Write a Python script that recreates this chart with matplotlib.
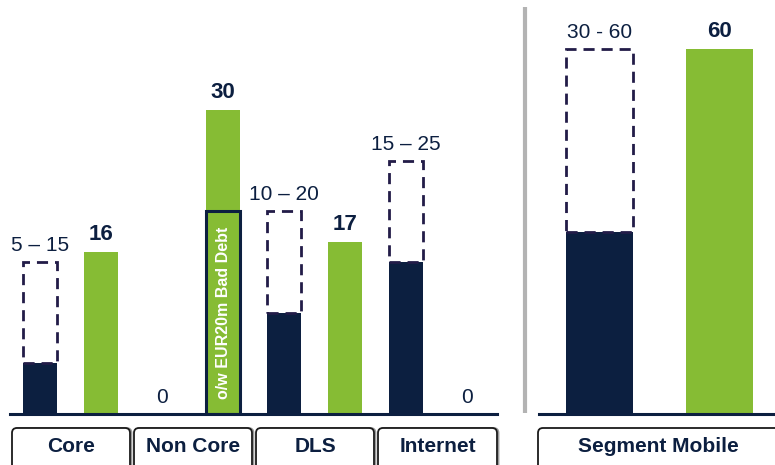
import matplotlib
matplotlib.use("Agg")
import matplotlib.pyplot as plt
from matplotlib.patches import Rectangle, FancyBboxPatch

plt.rcParams["font.family"] = ["Liberation Sans", "DejaVu Sans"]

# ---- data -------------------------------------------------------------
segments = ["Core", "Non Core", "DLS", "Internet"]
guide_low = [5, 0, 10, 15]          # lower end of guidance range
guide_high = [15, 0, 20, 25]        # upper end of guidance range
guide_labels = ["5 \u2013 15", "0", "10 \u2013 20", "15 \u2013 25"]
actual = [16, 30, 17, 0]
actual_labels = ["16", "30", "17", "0"]
bad_debt = [0, 20, 0, 0]            # o/w portion inside the actual bar

mobile = "Segment Mobile"
mobile_low, mobile_high = 30, 60
mobile_label = "30 - 60"
mobile_actual = 60
mobile_actual_label = "60"

# ---- style ------------------------------------------------------------
NAVY = "#0c1f40"
GREEN = "#86bc34"
DASH = "#221c48"
W, H = 775, 465

fig = plt.figure(figsize=(W / 100, H / 100), dpi=100)


def px_axes(x0, x1, y_base, y_top=0):
    return fig.add_axes([x0 / W, (H - y_base) / H, (x1 - x0) / W, (y_base - y_top) / H])


# overlay in pixel coordinates for the category boxes and divider
over = fig.add_axes([0, 0, 1, 1])
over.set_xlim(0, W)
over.set_ylim(H, 0)
over.axis("off")

base_y = 414
left = px_axes(10, 497, base_y)
right = px_axes(539, 775, base_y)

# left panel scale: 61 px per slot, ~10.13 px per unit
left.set_xlim(-30 / 61, 457 / 61)
left.set_ylim(0, base_y / 10.13)
# right panel scale: 120 px per slot, ~6.08 px per unit
right.set_xlim(-60.5 / 120, 175.5 / 120)
right.set_ylim(0, base_y / 6.08)

for ax in (left, right):
    ax.axis("off")
    ax.axhline(0, color=NAVY, lw=2.2, clip_on=False, zorder=5)

bw = 0.56
rng_fs = 15
bold_fs = 16
cat_fs = 15


def guidance(ax, x, lo, hi, label, lw=2.0):
    ax.bar(x, lo, width=bw, color=NAVY, zorder=3)
    ax.add_patch(Rectangle((x - bw / 2, lo), bw, hi - lo, fill=False,
                           edgecolor=DASH, lw=lw, linestyle=(0, (4, 2.5)), zorder=4))
    ax.annotate(label, (x, hi), xytext=(0, 5), textcoords="offset points",
                ha="center", va="bottom", fontsize=rng_fs, color=NAVY)


def value_bar(ax, x, v, label):
    if v > 0:
        ax.bar(x, v, width=bw, color=GREEN, zorder=3)
        ax.annotate(label, (x, v), xytext=(0, 5), textcoords="offset points",
                    ha="center", va="bottom", fontsize=bold_fs, color=NAVY,
                    fontweight="bold")
    else:
        ax.annotate(label, (x, 0), xytext=(0, 5), textcoords="offset points",
                    ha="center", va="bottom", fontsize=rng_fs, color=NAVY)


for i, seg in enumerate(segments):
    xg, xa = 2 * i, 2 * i + 1
    if guide_high[i] > 0:
        guidance(left, xg, guide_low[i], guide_high[i], guide_labels[i])
    else:
        left.annotate(guide_labels[i], (xg, 0), xytext=(0, 5), textcoords="offset points",
                      ha="center", va="bottom", fontsize=rng_fs, color=NAVY)
    value_bar(left, xa, actual[i], actual_labels[i])
    if bad_debt[i] > 0:
        left.add_patch(Rectangle((xa - bw / 2, 0), bw, bad_debt[i], facecolor=GREEN,
                                 edgecolor=NAVY, lw=2.2, zorder=4))
        left.text(xa, bad_debt[i] / 2, f"o/w EUR{bad_debt[i]}m Bad Debt", rotation=90,
                  ha="center", va="center", color="white", fontsize=11.5,
                  fontweight="bold", zorder=6)

guidance(right, 0, mobile_low, mobile_high, mobile_label)
value_bar(right, 1, mobile_actual, mobile_actual_label)

# divider between the two panels
over.plot([525, 525], [7, 413], color="#b3b3b3", lw=3, solid_capstyle="butt")

# category boxes under each group
boxes = [(12, 130), (134, 252), (256, 374), (378, 497)]
for (x0, x1), name in zip(boxes, segments):
    for dx, col in ((1.5, "#9a9a9a"), (0, "#1a1a1a")):
        over.add_patch(FancyBboxPatch((x0 + dx, 428), x1 - x0, 45,
                                      boxstyle="round,pad=0,rounding_size=5",
                                      facecolor="white", edgecolor=col, lw=1.3,
                                      zorder=2 if dx else 3))
    over.text((x0 + x1) / 2, 446, name, ha="center", va="center", fontsize=cat_fs,
              fontweight="bold", color=NAVY, zorder=4)

over.add_patch(FancyBboxPatch((538, 428), 260, 45,
                              boxstyle="round,pad=0,rounding_size=5",
                              facecolor="white", edgecolor="#1a1a1a", lw=1.3, zorder=3))
over.text(658, 446, mobile, ha="center", va="center", fontsize=cat_fs,
          fontweight="bold", color=NAVY, zorder=4)

fig.savefig("out.png", dpi=100)
